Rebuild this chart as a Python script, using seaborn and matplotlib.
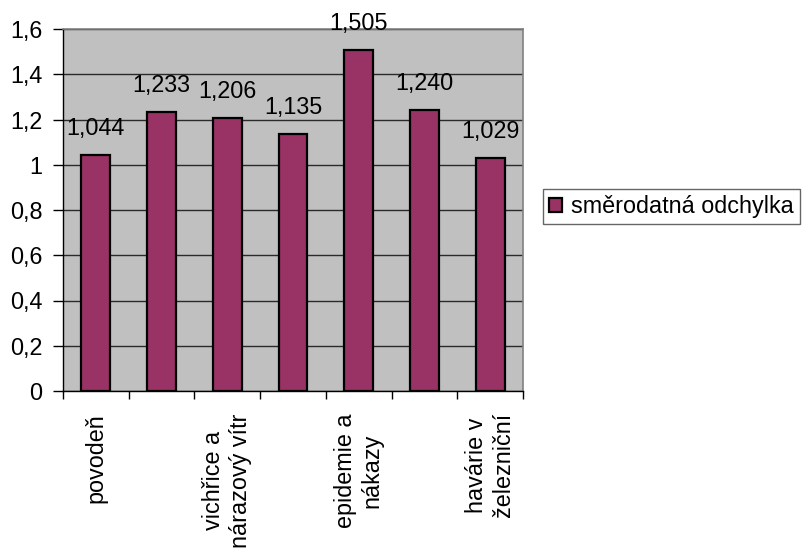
import matplotlib
matplotlib.use("Agg")
import matplotlib.pyplot as plt
from matplotlib.ticker import FixedLocator, FuncFormatter, MultipleLocator
import seaborn as sns
import pandas as pd

# Standard deviation per type of emergency event
categories = ["povodeň", "", "vichřice a\nnárazový vítr", "", "epidemie a\nnákazy", "", "havárie v\nželezniční"]
values = [1.044, 1.233, 1.206, 1.135, 1.505, 1.240, 1.029]
value_labels = ["1,044", "1,233", "1,206", "1,135", "1,505", "1,240", "1,029"]
series_name = "směrodatná odchylka"
y_ticks = [0, 0.2, 0.4, 0.6, 0.8, 1.0, 1.2, 1.4, 1.6]

sns.set_theme(style="white")
plt.rcParams["font.family"] = ["Liberation Sans", "DejaVu Sans"]
plt.rcParams["text.color"] = "black"
plt.rcParams["xtick.color"] = "black"
plt.rcParams["ytick.color"] = "black"
plt.rcParams["xtick.labelcolor"] = "black"
plt.rcParams["ytick.labelcolor"] = "black"
FS = 16.8

df = pd.DataFrame({"pos": list(range(len(values))), "value": values})

fig = plt.figure(figsize=(8.07, 5.57), dpi=100)
ax = fig.add_axes([63 / 807, 1 - 391 / 557, (523 - 63) / 807, (391 - 29) / 557])
ax.set_facecolor("#C0C0C0")

sns.barplot(data=df, x="pos", y="value", color="#993366", saturation=1,
            width=0.44, edgecolor="black", linewidth=1.6, label=series_name,
            legend=False, ax=ax, zorder=3)
if ax.get_legend() is not None:
    ax.get_legend().remove()

ax.set_xlim(-0.5, len(values) - 0.5)
ax.set_ylim(0, 1.6)
ax.yaxis.set_major_locator(FixedLocator(y_ticks))
ax.yaxis.set_major_formatter(FuncFormatter(lambda v, p: f"{v:g}".replace(".", ",")))
ax.grid(axis="y", color="#2a2a2a", linewidth=1, zorder=1)
ax.set_axisbelow(True)

# category labels at centres, tick marks at category boundaries
ax.set_xticks(range(len(values)))
ax.set_xticklabels(categories, rotation=90, fontsize=FS, va="top", ha="center",
                   multialignment="center", linespacing=1.2)
ax.xaxis.set_minor_locator(MultipleLocator(1, offset=0.5))
ax.tick_params(axis="x", which="major", length=0, pad=16, bottom=True)
ax.tick_params(axis="x", which="minor", length=6, width=1, color="black",
               direction="out", bottom=True)
ax.tick_params(axis="y", length=7, width=1, color="black", direction="out",
               pad=8, labelsize=FS, left=True)
ax.set_xlabel("")
ax.set_ylabel("")

for s in ["left", "bottom"]:
    ax.spines[s].set_color("black")
    ax.spines[s].set_linewidth(1)
for s in ["top", "right"]:
    ax.spines[s].set_color("#808080")
    ax.spines[s].set_linewidth(1.2)

for bar, lab in zip(ax.patches, value_labels):
    ax.annotate(lab, (bar.get_x() + bar.get_width() / 2, bar.get_height()),
                xytext=(0, 14.5), textcoords="offset points",
                ha="center", va="baseline", fontsize=FS, color="black")

handles = [ax.patches[0]]
leg = fig.legend(handles, [series_name], loc="upper left",
                 bbox_to_anchor=(543 / 807, 1 - 189 / 557), borderaxespad=0,
                 fontsize=FS, frameon=True, fancybox=False, borderpad=0.25,
                 handlelength=0.55, handleheight=0.55, handletextpad=0.4)
leg.get_frame().set_edgecolor("#404040")
leg.get_frame().set_linewidth(1)
for t in leg.get_texts():
    t.set_color("black")

fig.savefig("out.png", dpi=100, facecolor="white")
